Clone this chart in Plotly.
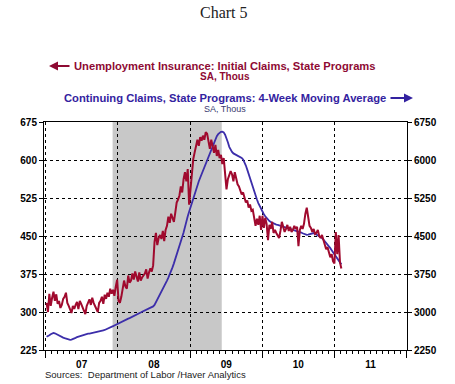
import plotly.graph_objects as go
import pandas as pd

# ---------------- data ----------------
week_start = "2007-01-06"
n_weeks = 214

# Unemployment Insurance: Initial Claims, State Programs (SA, Thous) - weekly
initial_claims = [
    # 2007
    318, 300, 336, 312,
    328, 340, 322, 335,
    316, 322, 308, 314, 326,
    330, 338, 318, 312,
    304, 298, 312, 306,
    314, 320, 306, 322, 316,
    308, 302, 296, 312,
    318, 325, 314, 328,
    318, 312, 306, 300, 318,
    322, 330, 316, 334,
    326, 338, 330, 346,
    336, 344, 332, 350, 364,
    # 2008
    322, 318, 330, 345,
    362, 350, 346, 372,
    358, 362, 376, 364, 380,
    370, 360, 378, 362,
    368, 372, 376, 384, 366,
    378, 386, 380, 392,
    438, 456, 432, 446,
    452, 444, 460, 440, 462,
    470, 488, 476, 494,
    484, 478, 496, 516,
    522, 530, 548, 536, 562,
    576, 558, 582, 512,
    # 2009
    545, 580, 602, 615, 630,
    640, 628, 645, 638,
    648, 640, 655, 652,
    632, 622, 640, 626,
    614, 630, 608, 620, 604,
    610, 592, 604, 575,
    542, 562, 570, 578,
    572, 558, 576, 562, 552,
    548, 540, 532, 536,
    524, 516, 520, 506, 512,
    500, 502, 480, 470,
    484, 472, 490, 462,
    # 2010
    490, 466, 486, 474, 442,
    472, 464, 478, 456,
    462, 456, 450, 446,
    460, 478, 468, 458,
    464, 472, 460, 468, 458,
    462, 470, 464, 468,
    430, 462, 470, 464, 474,
    494, 506, 488, 470,
    466, 458, 464, 454,
    456, 462, 450, 446, 452,
    444, 436, 424, 428,
    418, 408, 414, 400,
    # 2011
    396, 458, 414, 452, 398, 386,
]

# Continuing Claims, State Programs: 4-Week Moving Average (SA, Thous)
continuing_claims = [
    2510, 2520, 2540, 2560, 2575, 2585, 2580, 2565, 2545, 2525,
    2515, 2505, 2495, 2485, 2475, 2465, 2458, 2452, 2455, 2462,
    2475, 2490, 2505, 2515, 2520, 2525, 2530, 2540, 2555, 2565,
    2572, 2575, 2580, 2585, 2590, 2598, 2605, 2610, 2618, 2625,
    2632, 2638, 2645, 2655, 2668, 2680, 2692, 2705, 2720, 2735,
    2750, 2765, 2780, 2795, 2810, 2822, 2835, 2848, 2858, 2870,
    2880, 2892, 2905, 2918, 2930, 2945, 2960, 2975, 2990, 3005,
    3018, 3030, 3042, 3055, 3065, 3078, 3090, 3110, 3140, 3190,
    3250, 3310, 3370, 3420, 3470, 3520, 3570, 3620, 3680, 3740,
    3810, 3880, 3960, 4040, 4120, 4210, 4300, 4390, 4480, 4570,
    4700, 4800, 4890, 4980, 5070, 5160, 5250, 5340, 5420, 5500,
    5580, 5650, 5720, 5790, 5850, 5910, 5970, 6040, 6110, 6190,
    6270, 6350, 6420, 6470, 6510, 6540, 6555, 6560, 6545, 6500,
    6440, 6350, 6260, 6200, 6160, 6130, 6115, 6105, 6095, 6085,
    6065, 6040, 6010, 5960, 5890, 5810, 5720, 5630, 5540, 5450,
    5370, 5290, 5220, 5150, 5090, 5030, 4980, 4930, 4890, 4855,
    4820, 4795, 4775, 4760, 4745, 4735, 4725, 4718, 4710, 4702,
    4695, 4688, 4680, 4670, 4660, 4650, 4640, 4630, 4620, 4612,
    4605, 4598, 4590, 4580, 4568, 4555, 4540, 4528, 4522, 4525,
    4535, 4550, 4560, 4558, 4545, 4530, 4515, 4500, 4480, 4460,
    4430, 4400, 4370, 4335, 4300, 4260, 4220, 4180, 4140, 4100,
    4060, 4020, 3980, 3940,
]

left_ticks = [225, 300, 375, 450, 525, 600, 675]
right_ticks = [2250, 3000, 3750, 4500, 5250, 6000, 6750]
recession_start = "2007-12-06"
recession_end = "2009-06-10"

title_text = "Chart 5"
series1_name = "Unemployment Insurance: Initial Claims, State Programs"
series2_name = "Continuing Claims, State Programs: 4-Week Moving Average"
units_text = "SA, Thous"
source_text = "Sources:  Department of Labor /Haver Analytics"

weeks = pd.date_range(week_start, periods=n_weeks, freq="7D")

# ---------------- style ----------------
RED = "#A00A2E"
BLUE = "#3C2EAA"
RED_TXT = "#8E0A33"
BLUE_TXT = "#3322A0"
W, H = 455, 384
L, T = 44, 122
PW, PH = 363, 228
R, B = W - L - PW, H - T - PH


def px(xp):
    return (xp - L) / PW


def py(yp):
    return (H - B - yp) / PH


fig = go.Figure()
fig.add_trace(go.Scatter(x=weeks, y=continuing_claims, mode="lines",
                         line=dict(color=BLUE, width=1.8), yaxis="y",
                         name=series2_name))
fig.add_trace(go.Scatter(x=weeks, y=initial_claims, mode="lines",
                         line=dict(color=RED, width=2), yaxis="y2",
                         name=series1_name))

tickfont = dict(family="Arial", size=10, color="black", weight="bold")

fig.update_layout(
    width=W, height=H,
    margin=dict(l=L, r=R, t=T, b=B, autoexpand=False),
    paper_bgcolor="white", plot_bgcolor="white",
    showlegend=False,
    xaxis=dict(
        type="date", range=["2006-12-24", "2012-01-03"],
        tick0="2007-01-01", dtick="M12", tickformat="%y",
        ticklabelmode="period", automargin=False, ticklabelstandoff=-2,
        ticks="outside", ticklen=7, tickcolor="black", tickwidth=1,
        showline=True, linecolor="black", linewidth=1, mirror=True,
        showgrid=True, gridcolor="black", gridwidth=1, griddash="3px,3px",
        zeroline=False, tickfont=tickfont,
        minor=dict(dtick="M1", ticks="outside", ticklen=3,
                   tickcolor="black", showgrid=False),
    ),
    yaxis=dict(
        side="right", range=[2250, 6750], tickvals=right_ticks,
        automargin=False,
        ticks="outside", ticklen=4, tickcolor="black",
        showline=True, linecolor="black", linewidth=1,
        showgrid=True, gridcolor="black", gridwidth=1, griddash="3px,3px",
        zeroline=False, tickfont=tickfont,
    ),
    yaxis2=dict(
        overlaying="y", side="left", range=[225, 675], tickvals=left_ticks,
        automargin=False,
        ticks="outside", ticklen=4, tickcolor="black",
        showline=True, linecolor="black", linewidth=1,
        showgrid=False, zeroline=False, tickfont=tickfont,
    ),
)

fig.add_shape(type="rect", xref="x", yref="paper",
              x0=recession_start, x1=recession_end, y0=0, y1=1,
              fillcolor="#C8C8C8", line=dict(width=0), layer="below")


def label(text, x, y, size, color, family="Arial", xanchor="center"):
    return dict(text=text, xref="paper", yref="paper", x=px(x), y=py(y),
                xanchor=xanchor, yanchor="middle", showarrow=False,
                font=dict(family=family, size=size, color=color))


ann = [
    label(title_text, 224, 12, 16, "#222222",
          family="Liberation Serif, Times New Roman, serif"),
    label("<b>" + series1_name + "</b>", 224.5, 66, 11.2, RED_TXT),
    label("<b>" + units_text + "</b>", 225, 77, 10, RED_TXT),
    label("<b>" + series2_name + "</b>", 225, 98, 11.2, BLUE_TXT),
    label(units_text, 224.5, 108.5, 9, "#3A3A70"),
    label(source_text, 43, 374, 9.5, "#222222", xanchor="left"),
]
# arrows
ann.append(dict(text="", xref="paper", yref="paper", x=px(49), y=py(66),
                showarrow=True, ax=22, ay=0, arrowhead=2, arrowsize=0.9,
                arrowwidth=2, arrowcolor=RED_TXT))
ann.append(dict(text="", xref="paper", yref="paper", x=px(413), y=py(98),
                showarrow=True, ax=-24, ay=0, arrowhead=2, arrowsize=0.9,
                arrowwidth=2, arrowcolor=BLUE_TXT))
fig.update_layout(annotations=ann)

fig.write_html("out.html",
               config={"displayModeBar": False},
               post_script="document.body.style.margin='0px';")
